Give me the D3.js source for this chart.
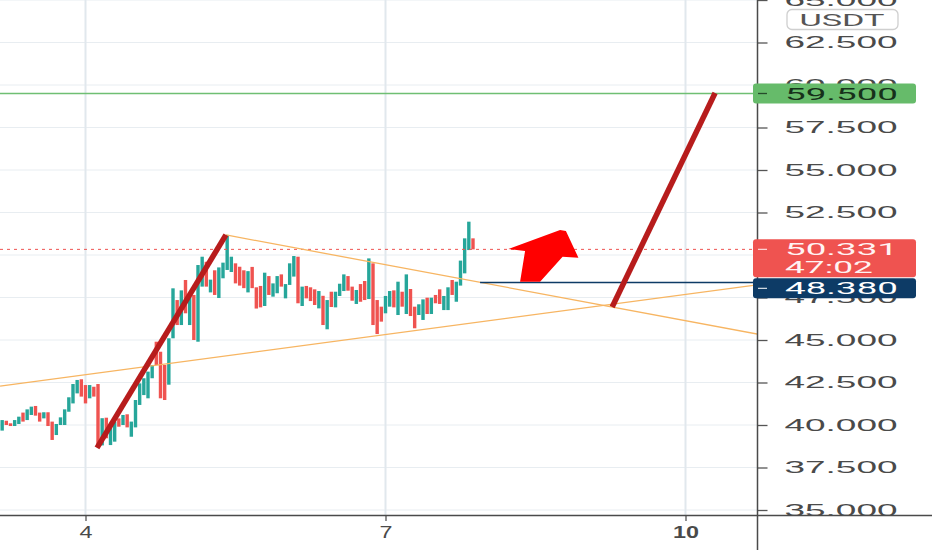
<!DOCTYPE html>
<html>
<head>
<meta charset="utf-8">
<script src="https://cdn.jsdelivr.net/npm/d3@7"></script>
<style>
  html, body { margin: 0; padding: 0; background: #fff; }
  svg { display: block; font-family: Roboto, "Liberation Sans", sans-serif; }
</style>
</head>
<body>
<svg id="chart" width="932" height="550"></svg>
<script>
// hourly candles, the first one opens Mar 3 04:00
const firstCandle = Date.UTC(2021, 2, 3, 4);
const dayZero = Date.UTC(2021, 2, 4); // drawings are stored as hours from this date

const openPrices = [
  39.67, 40.25, 40.1, 39.94, 40.06, 40.73, 40.29, 40.59, 41.12, 40.73,
  40.39, 40.75, 40.2, 39.41, 40.0, 40.0, 40.78, 41.27, 41.86, 42.69,
  42.35, 41.57, 42.25, 42.41, 38.8, 40.43, 38.82, 39.02, 40.39, 40.0,
  40.63, 39.31, 39.86, 41.18, 41.76, 41.57, 42.75, 44.9, 44.31, 43.53,
  42.37, 45.1, 47.35, 45.88, 48.53, 45.88, 47.65, 44.9, 48.14, 49.6,
  47.8, 49.1, 47.47, 48.63, 49.12, 49.0, 49.51, 49.31, 49.1, 47.8,
  49.3, 48.1, 48.18, 47.0, 48.76, 47.55, 47.75, 48.86, 47.45, 48.24,
  48.73, 49.9, 47.0, 48.18, 48.1, 47.98, 46.86, 47.6, 45.63, 47.84,
  46.92, 47.59, 47.88, 48.76, 48.14, 47.12, 48.29, 48.47, 47.41, 49.51,
  47.35, 46.96, 46.57, 46.96, 47.92, 46.47, 47.84, 46.53, 48.0, 46.96,
  46.47, 46.18, 47.49, 46.53, 47.65, 47.98, 46.76, 46.76, 48.53, 47.25,
  48.2, 48.92, 50.29, 50.98
];
const closePrices = [
  40.29, 40.0, 39.94, 40.29, 40.49, 40.2, 40.92, 41.08, 40.55, 40.2,
  40.75, 39.94, 39.12, 40.06, 40.45, 40.92, 41.63, 42.41, 42.65, 41.67,
  41.27, 42.35, 41.67, 38.73, 40.4, 39.22, 40.0, 40.2, 39.9, 40.59,
  39.86, 40.2, 41.47, 42.45, 42.75, 43.14, 43.53, 43.53, 41.57, 41.47,
  45.1, 48.04, 45.88, 47.92, 46.57, 47.55, 45.0, 49.41, 49.9, 48.14,
  48.55, 47.65, 49.27, 49.55, 51.18, 49.9, 48.33, 48.2, 48.05, 49.05,
  48.05, 46.85, 46.92, 48.96, 47.65, 48.33, 48.76, 48.14, 48.29, 49.51,
  49.94, 47.16, 48.14, 47.45, 47.29, 47.06, 47.88, 45.88, 47.35, 46.94,
  47.84, 48.31, 48.86, 47.9, 47.31, 47.94, 47.25, 47.35, 49.8, 45.88,
  45.35, 46.08, 47.59, 47.88, 46.92, 48.43, 46.96, 48.86, 46.41, 45.69,
  47.1, 47.39, 46.53, 47.49, 47.16, 47.12, 47.59, 48.1, 47.65, 48.43,
  49.67, 50.98, 51.96, 50.331
];

const priceTicks = [35, 37.5, 40, 42.5, 45, 47.5, 50, 52.5, 55, 57.5, 60, 62.5, 65];
const dayTicks = [4, 7, 10];
const quoteCurrency = "USDT";
const lastPrice = 50.331;
const countdown = "47:02";
const targetPrice = 59.5;
const breakoutPrice = 48.38;
const breakoutStart = 94.7;

// [hours from Mar 4 00:00, price]
const impulseLeg = [[2.76, 38.65], [33.7, 51.18]];
const projectedLeg = [[126.4, 46.94], [151.1, 59.53]];
const upperTrend = [[33.7, 51.18], [161.2, 45.35]];
const lowerTrend = [[-20.5, 42.29], [161.2, 48.24]];
const arrowShape = [
  [104.3, 48.43], [105.5, 50.24], [101.5, 50.35], [113.9, 51.47],
  [115.3, 51.41], [118.3, 49.84], [114.5, 49.9], [109.1, 48.43]
];

const plotW = 757, plotH = 515;
const up = "#26a69a", down = "#ef5350";
const labelFont = 17;

const hour = (h) => new Date(dayZero + h * 3600e3);

const svg = d3.select("#chart");

const x = d3.scaleUtc()
  .domain([hour(-20.52), hour(161.16)])
  .range([0, plotW]);
const y = d3.scaleLinear().domain([35, 65]).range([510, 0]);

svg.append("defs").append("clipPath").attr("id", "plot-clip")
  .append("rect").attr("width", plotW).attr("height", plotH);

// grid
const grid = svg.append("g");
grid.selectAll("line.h")
  .data(priceTicks)
  .join("line")
  .attr("x1", 0).attr("x2", plotW)
  .attr("y1", (d) => y(d)).attr("y2", (d) => y(d))
  .attr("stroke", "#e8edf1").attr("stroke-width", 1);
grid.selectAll("line.v")
  .data(dayTicks)
  .join("line")
  .attr("x1", (d) => x(Date.UTC(2021, 2, d))).attr("x2", (d) => x(Date.UTC(2021, 2, d)))
  .attr("y1", 0).attr("y2", plotH)
  .attr("stroke", "#e1e8ed").attr("stroke-width", 2);

const plot = svg.append("g").attr("clip-path", "url(#plot-clip)");

// candles
const candles = openPrices.map((o, i) => ({
  t: new Date(firstCandle + i * 3600e3),
  o,
  c: closePrices[i],
}));
plot.append("g")
  .selectAll("rect")
  .data(candles)
  .join("rect")
  .attr("x", (d) => x(d.t) - 1.7)
  .attr("width", 3.4)
  .attr("y", (d) => y(Math.max(d.o, d.c)))
  .attr("height", (d) => Math.max(1, Math.abs(y(d.o) - y(d.c))))
  .attr("fill", (d) => (d.c >= d.o ? up : down));

const line = d3.line().x((d) => x(hour(d[0]))).y((d) => y(d[1]));

// price lines
plot.append("line")
  .attr("x1", 0).attr("x2", plotW)
  .attr("y1", y(lastPrice)).attr("y2", y(lastPrice))
  .attr("stroke", down).attr("stroke-width", 1)
  .attr("stroke-dasharray", "3 4");
plot.append("line")
  .attr("x1", 0).attr("x2", plotW)
  .attr("y1", y(targetPrice)).attr("y2", y(targetPrice))
  .attr("stroke", "#6fbf73").attr("stroke-width", 1.5);

// triangle
[upperTrend, lowerTrend].forEach((pts) => {
  plot.append("path")
    .attr("d", line(pts))
    .attr("fill", "none")
    .attr("stroke", "#f7b562")
    .attr("stroke-width", 1.3);
});

plot.append("line")
  .attr("x1", x(hour(breakoutStart))).attr("x2", plotW)
  .attr("y1", y(breakoutPrice)).attr("y2", y(breakoutPrice))
  .attr("stroke", "#0d3b66").attr("stroke-width", 1.5);

// legs
[impulseLeg, projectedLeg].forEach((pts) => {
  plot.append("path")
    .attr("d", line(pts))
    .attr("fill", "none")
    .attr("stroke", "#b71c1c")
    .attr("stroke-width", 5.5);
});

plot.append("path")
  .attr("d", line(arrowShape) + "Z")
  .attr("fill", "#ff0000");

// price axis
const yAxis = d3.axisRight(y)
  .tickValues(priceTicks)
  .tickSize(10)
  .tickPadding(17)
  .tickFormat(d3.format(".3f"));
const yg = svg.append("g")
  .attr("transform", `translate(${plotW + 0.5},0)`)
  .call(yAxis);
yg.select(".domain").remove();
yg.selectAll("line").attr("stroke", "#555").attr("stroke-width", 1.3);
yg.selectAll("text")
  .attr("font-size", labelFont)
  .attr("fill", "#4a4a4a")
  .attr("textLength", 113)
  .attr("lengthAdjust", "spacingAndGlyphs");

// axis frames
svg.append("line")
  .attr("x1", plotW + 0.5).attr("x2", plotW + 0.5)
  .attr("y1", 0).attr("y2", 550)
  .attr("stroke", "#4a4a4a").attr("stroke-width", 1.5);

const xAxis = d3.axisBottom(x)
  .tickValues(dayTicks.map((d) => new Date(Date.UTC(2021, 2, d))))
  .tickSize(6)
  .tickPadding(5)
  .tickFormat(d3.utcFormat("%-d"));
const xg = svg.append("g")
  .attr("transform", `translate(0,${plotH})`)
  .call(xAxis);
xg.select(".domain").remove();
xg.selectAll("line").attr("stroke", "#555").attr("stroke-width", 1.3);
xg.selectAll("text")
  .attr("font-size", labelFont)
  .attr("fill", "#4a4a4a")
  .attr("font-weight", (d) => (d.getUTCDate() === 10 ? "bold" : null))
  .attr("textLength", (d) => (d.getUTCDate() === 10 ? 26 : 13))
  .attr("lengthAdjust", "spacingAndGlyphs");
svg.append("line")
  .attr("x1", 0).attr("x2", 932)
  .attr("y1", plotH + 0.5).attr("y2", plotH + 0.5)
  .attr("stroke", "#4a4a4a").attr("stroke-width", 1.5);

// currency badge
svg.append("rect")
  .attr("x", 787).attr("y", 9.5)
  .attr("width", 111).attr("height", 20).attr("rx", 5)
  .attr("fill", "#fff").attr("stroke", "#cfcfcf").attr("stroke-width", 1.3);
svg.append("text")
  .attr("x", 842).attr("y", 26)
  .attr("text-anchor", "middle")
  .attr("font-size", 16)
  .attr("fill", "#555")
  .attr("textLength", 85)
  .attr("lengthAdjust", "spacingAndGlyphs")
  .text(quoteCurrency);

// price labels
const fmt = d3.format(".3f");
function priceLabel(top, h, fill, textFill, rows) {
  const g = svg.append("g");
  g.append("rect")
    .attr("x", plotW - 4).attr("y", top)
    .attr("width", 920 - plotW).attr("height", h).attr("rx", 3)
    .attr("fill", fill);
  g.append("line")
    .attr("x1", plotW + 1).attr("x2", plotW + 10)
    .attr("y1", top + 10).attr("y2", top + 10)
    .attr("stroke", textFill).attr("stroke-opacity", 0.8).attr("stroke-width", 1.3);
  rows.forEach((r, i) => {
    g.append("text")
      .attr("x", 785).attr("y", top + 16 + i * 18)
      .attr("font-size", labelFont)
      .attr("fill", textFill)
      .attr("textLength", r.w)
      .attr("lengthAdjust", "spacingAndGlyphs")
      .text(r.t);
  });
}

const redTop = y(lastPrice) - 10;
const navyTop = Math.max(y(breakoutPrice) - 10, redTop + 38 + 1);
priceLabel(y(targetPrice) - 10, 20, "#66bb6a", "#16301a", [{ t: fmt(targetPrice), w: 113 }]);
priceLabel(redTop, 38, down, "#fff3f3", [{ t: fmt(lastPrice), w: 113 }, { t: countdown, w: 88 }]);
priceLabel(navyTop, 20, "#0d3b66", "#ffffff", [{ t: fmt(breakoutPrice), w: 113 }]);
</script>
</body>
</html>
